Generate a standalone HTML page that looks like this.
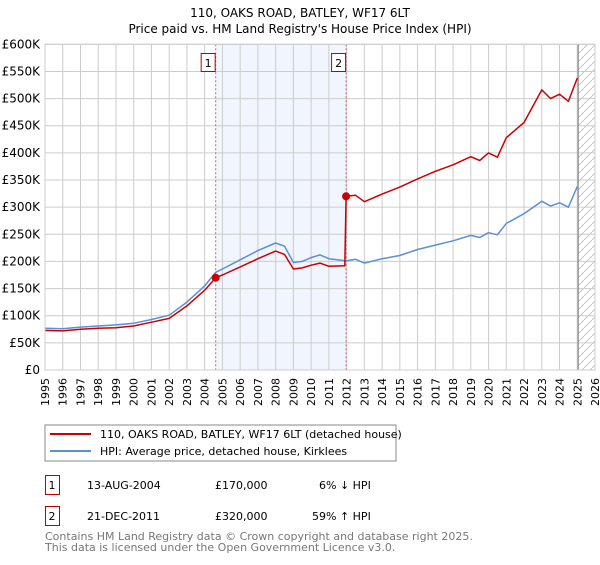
<!DOCTYPE html>
<html><head><meta charset="utf-8"><style>
body{margin:0;background:#fff;}
svg text{font-family:"DejaVu Sans","Liberation Sans",sans-serif;}
</style></head><body>
<svg id="c" width="600" height="560" xmlns="http://www.w3.org/2000/svg">
<text x="300" y="17" text-anchor="middle" font-size="12" fill="#000">110, OAKS ROAD, BATLEY, WF17 6LT</text>
<text x="300" y="33" text-anchor="middle" font-size="12" fill="#000">Price paid vs. HM Land Registry's House Price Index (HPI)</text>
<g id="plot"></g>
<rect x="45" y="425" width="351" height="36" fill="#fff" stroke="#888"/>
<line x1="50" y1="434" x2="91" y2="434" stroke="#cc0000" stroke-width="2"/>
<text x="100" y="438" font-size="11">110, OAKS ROAD, BATLEY, WF17 6LT (detached house)</text>
<line x1="50" y1="451" x2="91" y2="451" stroke="#5b8fd6" stroke-width="2"/>
<text x="100" y="455" font-size="11">HPI: Average price, detached house, Kirklees</text>
<g>
<rect x="45.5" y="475.5" width="14" height="19" fill="#fff" stroke="#b00"/>
<text x="52" y="489" font-size="11" text-anchor="middle">1</text>
<text x="87" y="489" font-size="11">13-AUG-2004</text>
<text x="215" y="489" font-size="11">£170,000</text>
<text x="319" y="489" font-size="11">6% ↓ HPI</text>
</g>
<g>
<rect x="45.5" y="506.5" width="14" height="19" fill="#fff" stroke="#b00"/>
<text x="52" y="520" font-size="11" text-anchor="middle">2</text>
<text x="87" y="520" font-size="11">21-DEC-2011</text>
<text x="215" y="520" font-size="11">£320,000</text>
<text x="312" y="520" font-size="11">59% ↑ HPI</text>
</g>
<text x="45" y="540" font-size="11" fill="#777">Contains HM Land Registry data © Crown copyright and database right 2025.</text>
<text x="45" y="551" font-size="11" fill="#777">This data is licensed under the Open Government Licence v3.0.</text>
</svg>
<script>
const yearTicks=[1995,1996,1997,1998,1999,2000,2001,2002,2003,2004,2005,2006,2007,2008,2009,2010,2011,2012,2013,2014,2015,2016,2017,2018,2019,2020,2021,2022,2023,2024,2025,2026];
const priceTicks=[0,50,100,150,200,250,300,350,400,450,500,550,600];
const priceLabels=["£0","£50K","£100K","£150K","£200K","£250K","£300K","£350K","£400K","£450K","£500K","£550K","£600K"];
const hpiYears=[1995,1996,1997,1998,1999,2000,2001,2002,2003,2004,2004.62,2005,2006,2007,2008,2008.5,2009,2009.5,2010,2010.5,2011,2011.97,2012.5,2013,2014,2015,2016,2017,2018,2019,2019.5,2020,2020.5,2021,2022,2023,2023.5,2024,2024.5,2025];
const hpiValues=[77,76,79,81,83,86,93,101,125,155,180,186,203,220,234,228,198,200,207,212,205,201,204,197,205,211,222,230,238,248,244,253,249,270,288,311,302,308,300,338];
const propYears=[1995,1996,1997,1998,1999,2000,2001,2002,2003,2004,2004.62,2005,2006,2007,2008,2008.5,2009,2009.5,2010,2010.5,2011,2011.9,2011.97,2012.5,2013,2014,2015,2016,2017,2018,2019,2019.5,2020,2020.5,2021,2022,2023,2023.5,2024,2024.5,2025];
const propValues=[73,72,75,77,78,81,88,95,118,147,170,175,190,205,219,213,186,188,193,197,191,192,320,322,310,324,337,352,366,378,393,386,400,392,428,456,516,500,508,495,538];
const saleYears=[2004.62,2011.97];
const saleValues=[170,320];
const saleLabels=["1","2"];
const X=y=>45+(y-1995)*(550/31);
const Y=v=>370-v*(325.7/600);
const NS="http://www.w3.org/2000/svg";
const g=document.getElementById('plot');
function mk(t,a){const e=document.createElementNS(NS,t);for(const k in a)e.setAttribute(k,a[k]);g.appendChild(e);return e;}
let e=mk('rect',{x:X(saleYears[0]),y:Y(600),width:X(saleYears[1])-X(saleYears[0]),height:Y(0)-Y(600),fill:'#eef3fc',opacity:0.8});


const defs=document.createElementNS(NS,'defs');defs.innerHTML='<pattern id="h" width="8" height="8" patternUnits="userSpaceOnUse"><path d="M0,8 L8,0" stroke="#bbb" stroke-width="0.8"/></pattern>';g.appendChild(defs);
e=mk('rect',{x:X(2025.05),y:Y(600),width:X(2026)-X(2025.05),height:Y(0)-Y(600),fill:'url(#h)'});


yearTicks.forEach(yr=>{
 let l=mk('line',{x1:X(yr),x2:X(yr),y1:Y(600),y2:Y(0),stroke:'#ccc'});
 
 
 let t=mk('text',{x:X(yr)+4,y:Y(0)+8,'font-size':11,transform:`rotate(-90 ${X(yr)+4} ${Y(0)+8})`,'text-anchor':'end'});
 t.textContent=yr;
 
 
});
priceTicks.forEach((p,i)=>{
 let l=mk('line',{x1:X(1995),x2:X(2026),y1:Y(p),y2:Y(p),stroke:'#ccc'});
 
 
 let t=mk('text',{x:40,y:Y(p)+4,'font-size':12,'text-anchor':'end'});
 t.textContent=priceLabels[i];
 
 
});
e=mk('line',{x1:X(2025.05),x2:X(2025.05),y1:Y(600),y2:Y(0),stroke:'#888','stroke-width':1.2});


saleYears.forEach((yr,i)=>{
 let l=mk('line',{x1:X(yr),x2:X(yr),y1:Y(600),y2:Y(0),stroke:'#e06070','stroke-dasharray':'2,2'});
 
 
});
function path(xs,vs,col,name){
 let d=xs.map((x,i)=>(i?'L':'M')+X(x).toFixed(1)+','+Y(vs[i]).toFixed(1)).join('');
 let p=mk('path',{d:d,fill:'none',stroke:col,'stroke-width':1.5,'stroke-linejoin':'round'});
 
 
}
path(hpiYears,hpiValues,'#5b8fd6','hpi-line');
path(propYears,propValues,'#cc0000','property-line');
saleYears.forEach((yr,i)=>{
 let c=mk('circle',{cx:X(yr),cy:Y(saleValues[i]),r:4,fill:'#cc0000'});
 
 
 let r=mk('rect',{x:X(yr)-14.5,y:53.5,width:14,height:18,fill:'#fff',stroke:'#b00'});
 
 
 let t=mk('text',{x:X(yr)-7.5,y:67,'font-size':11,'text-anchor':'middle'});
 t.textContent=saleLabels[i];
 
 
});
e=mk('rect',{x:X(1995),y:Y(600),width:X(2026)-X(1995),height:Y(0)-Y(600),fill:'none',stroke:'#ccc'});


</script>
</body></html>
